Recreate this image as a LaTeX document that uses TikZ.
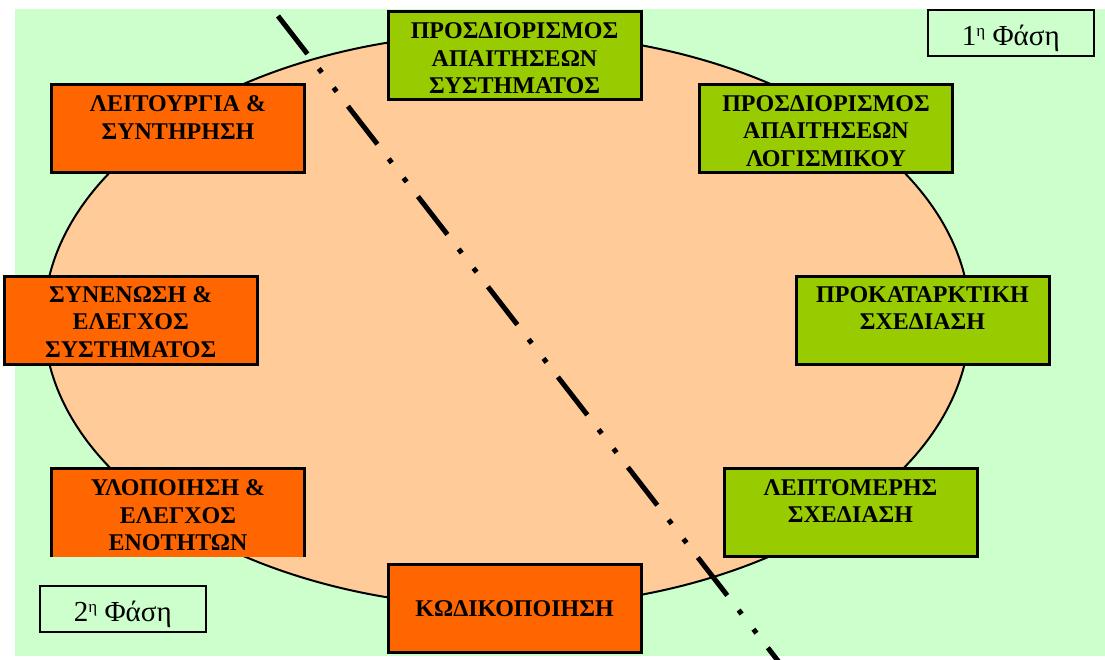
\documentclass[tikz,border=0pt]{standalone}
\usepackage{fontspec}
\setmainfont{Liberation Serif}
\definecolor{bggreen}{HTML}{CCFFCC}
\definecolor{peach}{HTML}{FFCC99}
\definecolor{orangebox}{HTML}{FF6600}
\definecolor{greenbox}{HTML}{99CC00}
\begin{document}
\begin{tikzpicture}[x=1pt,y=-1pt,
  stage/.style={line width=3pt, minimum width=253pt, minimum height=88pt,
    inner sep=0pt, outer sep=0pt},
  late/.style={stage, draw=black, fill=orangebox},
  early/.style={stage, draw=black, fill=greenbox},
  stagetext/.style={anchor=north, align=center, inner sep=0pt,
    font=\fontsize{24}{27.5}\selectfont\bfseries},
  phase/.style={draw=black, line width=2.2pt, fill=bggreen,
    minimum width=166pt, minimum height=46pt, inner sep=0pt,
    text height=25.4pt, text depth=0pt, font=\fontsize{29}{32}\selectfont},
  divider/.style={line width=5pt, line cap=butt,
    dash pattern=on 48pt off 18.5pt on 5pt off 19.2pt on 5pt off 18.5pt}
]
\useasboundingbox (0,0) rectangle (1105,659);

% page background and the life-cycle ellipse
\fill[bggreen] (15,9) rectangle (1105,656);
\draw[line width=2pt, fill=peach] (507,320) ellipse [x radius=463pt, y radius=287pt];

% dash-dot-dot boundary between the two phases
\coordinate (cutA) at (278,16);
\coordinate (cutB) at (781.2,665);
\draw[divider] (cutA) -- (cutB);

% first phase: requirements and design
\node[early] (sysreq) at (514.5,55) {};
\node[stagetext] at ([yshift=-11.5pt]sysreq.north) {ΠΡΟΣΔΙΟΡΙΣΜΟΣ\\ΑΠΑΙΤΗΣΕΩΝ\\ΣΥΣΤΗΜΑΤΟΣ};

\node[early] (swreq) at (826,128.3) {};
\node[stagetext] at ([yshift=-11pt]swreq.north) {ΠΡΟΣΔΙΟΡΙΣΜΟΣ\\ΑΠΑΙΤΗΣΕΩΝ\\ΛΟΓΙΣΜΙΚΟΥ};

\node[early] (prelim) at (922.5,320.7) {};
\node[stagetext] at ([yshift=-9.5pt]prelim.north) {ΠΡΟΚΑΤΑΡΚΤΙΚΗ\\ΣΧΕΔΙΑΣΗ};

\node[early] (detail) at (850.5,512.7) {};
\node[stagetext] at ([yshift=-10.7pt]detail.north) {ΛΕΠΤΟΜΕΡΗΣ\\ΣΧΕΔΙΑΣΗ};

% second phase: coding, testing and operation
\node[late] (coding) at (514.5,608.7) {};
\node[stagetext] at ([yshift=-36pt]coding.north) {ΚΩΔΙΚΟΠΟΙΗΣΗ};

\node[stage, fill=orangebox] (unit) at (178,512.5) {};
\draw[line width=3pt] (unit.south west) -- (unit.north west) -- (unit.north east) -- (unit.south east);
\node[stagetext] at ([yshift=-11pt]unit.north) {ΥΛΟΠΟΙΗΣΗ \&\\ΕΛΕΓΧΟΣ\\ΕΝΟΤΗΤΩΝ};

\node[late] (integ) at (130.7,320.5) {};
\node[stagetext] at ([yshift=-9.5pt]integ.north) {ΣΥΝΕΝΩΣΗ \&\\ΕΛΕΓΧΟΣ\\ΣΥΣΤΗΜΑΤΟΣ};

\node[late] (maint) at (178,128.7) {};
\node[stagetext] at ([yshift=-11pt]maint.north) {ΛΕΙΤΟΥΡΓΙΑ \&\\ΣΥΝΤΗΡΗΣΗ};

% phase labels
\node[phase] (phase1) at (1010.8,33) {1\raisebox{9.5pt}{\fontsize{17}{17}\selectfont η} Φάση};
\node[phase] (phase2) at (122.8,609) {2\raisebox{9.5pt}{\fontsize{17}{17}\selectfont η} Φάση};
\end{tikzpicture}
\end{document}
